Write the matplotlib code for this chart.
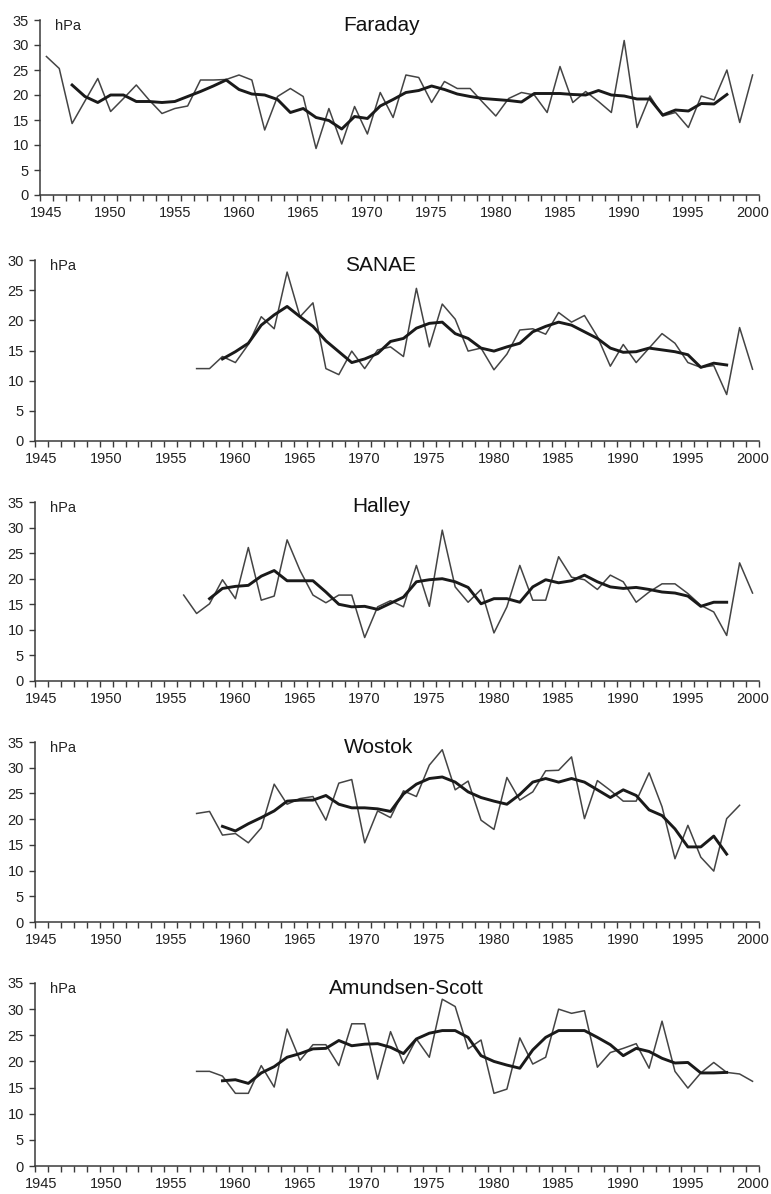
import numpy as np
import matplotlib
matplotlib.use('Agg')
import matplotlib.pyplot as plt

plt.rcParams['font.family'] = ['Liberation Sans', 'DejaVu Sans']

# annual values (thin) and running mean (thick), hPa
faraday_years = list(range(1945, 2001))
faraday_annual = [27.7, 25.3, 14.3, 18.8, 23.3, 16.7, 19.3, 22.0, 19.0, 16.3,
                  17.3, 17.8, 23.0, 23.0, 23.1, 24.0, 23.0, 13.0, 19.7, 21.3,
                  19.7, 9.3, 17.3, 10.2, 17.7, 12.2, 20.5, 15.5, 24.0, 23.5,
                  18.5, 22.7, 21.3, 21.3, 18.5, 15.8, 19.3, 20.5, 20.0, 16.5,
                  25.7, 18.5, 20.7, 18.7, 16.5, 30.9, 13.5, 19.8, 15.8, 16.5,
                  13.5, 19.8, 19.0, 25.0, 14.5, 24.0]
faraday_smooth_years = list(range(1947, 1999))
faraday_smooth = [22.0, 19.7, 18.5, 20.0, 20.0, 18.7, 18.7, 18.5, 18.7, 19.7,
                  20.7, 21.8, 23.0, 21.1, 20.2, 20.0, 19.1, 16.5, 17.3, 15.5,
                  14.9, 13.2, 15.7, 15.3, 17.8, 19.1, 20.5, 20.9, 21.8, 21.1,
                  20.2, 19.7, 19.3, 19.1, 18.9, 18.6, 20.3, 20.3, 20.3, 20.1,
                  20.0, 20.9, 20.0, 19.8, 19.2, 19.2, 16.0, 17.0, 16.8, 18.3,
                  18.2, 20.1]

sanae_years = list(range(1957, 2001))
sanae_annual = [12.0, 12.0, 14.0, 13.0, 16.0, 20.6, 18.6, 28.0, 20.6, 22.9,
                12.0, 11.0, 14.9, 12.0, 15.1, 15.6, 14.0, 25.3, 15.6, 22.7,
                20.2, 14.9, 15.4, 11.8, 14.4, 18.4, 18.6, 17.7, 21.3, 19.7,
                20.8, 17.3, 12.4, 16.0, 13.0, 15.4, 17.8, 16.2, 13.0, 12.2,
                12.5, 7.7, 18.8, 11.9]
sanae_smooth_years = list(range(1959, 1999))
sanae_smooth = [13.6, 14.8, 16.2, 19.2, 20.9, 22.3, 20.6, 19.0, 16.6, 14.8,
                13.0, 13.6, 14.5, 16.5, 17.0, 18.7, 19.5, 19.7, 17.8, 17.0,
                15.4, 14.9, 15.6, 16.2, 18.1, 19.0, 19.7, 19.2, 18.1, 17.0,
                15.4, 14.7, 14.8, 15.4, 15.1, 14.8, 14.3, 12.2, 12.9, 12.6]

halley_years = list(range(1956, 2001))
halley_annual = [16.8, 13.2, 15.1, 19.8, 16.1, 26.1, 15.8, 16.6, 27.6, 21.6,
                 16.8, 15.3, 16.8, 16.8, 8.5, 14.5, 15.7, 14.5, 22.6, 14.6,
                 29.5, 18.4, 15.4, 17.9, 9.4, 14.5, 22.6, 15.8, 15.8, 24.3,
                 20.3, 19.8, 17.9, 20.7, 19.4, 15.4, 17.4, 19.0, 19.0, 17.1,
                 14.8, 13.5, 8.9, 23.1, 17.2]
halley_smooth_years = list(range(1958, 1999))
halley_smooth = [16.1, 18.1, 18.5, 18.7, 20.5, 21.6, 19.6, 19.6, 19.6, 17.4,
                 15.0, 14.5, 14.6, 14.0, 15.2, 16.4, 19.4, 19.8, 20.0, 19.4,
                 18.3, 15.1, 16.1, 16.1, 15.4, 18.4, 19.8, 19.2, 19.6, 20.7,
                 19.4, 18.4, 18.1, 18.3, 17.9, 17.4, 17.2, 16.6, 14.6, 15.4,
                 15.4]

wostok_years = list(range(1957, 2000))
wostok_annual = [21.1, 21.5, 16.9, 17.2, 15.4, 18.3, 26.8, 22.9, 24.0, 24.4,
                 19.8, 27.0, 27.7, 15.4, 21.6, 20.3, 25.5, 24.4, 30.5, 33.5,
                 25.7, 27.4, 19.8, 18.0, 28.1, 23.7, 25.3, 29.4, 29.5, 32.1,
                 20.1, 27.5, 25.6, 23.5, 23.5, 29.0, 22.4, 12.3, 18.8, 12.6,
                 9.9, 20.1, 22.7]
wostok_smooth_years = list(range(1959, 1999))
wostok_smooth = [18.6, 17.7, 19.1, 20.3, 21.6, 23.5, 23.7, 23.7, 24.6, 22.9,
                 22.2, 22.2, 22.0, 21.5, 24.9, 26.8, 27.9, 28.2, 27.2, 25.3,
                 24.2, 23.5, 22.9, 24.8, 27.2, 27.9, 27.2, 27.9, 27.2, 25.7,
                 24.2, 25.7, 24.6, 21.8, 20.7, 18.1, 14.6, 14.6, 16.7, 13.2]

amundsen_years = list(range(1957, 2001))
amundsen_annual = [18.1, 18.1, 17.2, 13.9, 13.9, 19.2, 15.1, 26.2, 20.2, 23.2,
                   23.2, 19.2, 27.2, 27.2, 16.6, 25.7, 19.6, 24.3, 20.8, 31.9,
                   30.5, 22.4, 24.1, 13.9, 14.7, 24.5, 19.5, 20.8, 30.0, 29.2,
                   29.7, 18.9, 21.7, 22.5, 23.4, 18.7, 27.7, 18.1, 14.9, 17.8,
                   19.8, 17.9, 17.6, 16.2]
amundsen_smooth_years = list(range(1959, 1999))
amundsen_smooth = [16.3, 16.5, 15.8, 17.8, 19.0, 20.8, 21.5, 22.4, 22.5, 24.0,
                   23.0, 23.3, 23.4, 22.7, 21.5, 24.3, 25.4, 25.9, 25.9, 24.6,
                   21.1, 20.0, 19.3, 18.7, 22.2, 24.6, 25.9, 25.9, 25.9, 24.6,
                   23.2, 21.1, 22.5, 21.9, 20.6, 19.7, 19.8, 17.8, 17.8, 17.9]

stations = ['Faraday', 'SANAE', 'Halley', 'Wostok', 'Amundsen-Scott']
y_max = [35, 30, 35, 35, 35]
label_years = [1945, 1950, 1955, 1960, 1965, 1970, 1975, 1980, 1985, 1990, 1995, 2000]

series = [
    (faraday_years, faraday_annual, faraday_smooth_years, faraday_smooth),
    (sanae_years, sanae_annual, sanae_smooth_years, sanae_smooth),
    (halley_years, halley_annual, halley_smooth_years, halley_smooth),
    (wostok_years, wostok_annual, wostok_smooth_years, wostok_smooth),
    (amundsen_years, amundsen_annual, amundsen_smooth_years, amundsen_smooth),
]

# layout in pixels: (left, right, top, bottom), title centre x and baseline y
W, H = 771, 1194
boxes = [(40, 759, 20, 195), (35, 759, 260, 441), (35, 759, 502, 681),
         (35, 759, 742, 922), (35, 759, 983, 1166)]
title_pos = [(382, 31), (381, 271), (381, 512), (379, 753), (406, 994)]

axis_col = '#3a3a3a'
fig = plt.figure(figsize=(W / 100, H / 100), dpi=100)

for i, name in enumerate(stations):
    l, r, t, b = boxes[i]
    ax = fig.add_axes([l / W, 1 - b / H, (r - l) / W, (b - t) / H])
    yrs, ann, syrs, sm = series[i]
    ax.plot(yrs, ann, color='#444444', lw=1.1)
    ax.plot(syrs, sm, color='#1a1a1a', lw=2.1)

    ax.set_xlim(1944.5, 2000.5)
    ax.set_ylim(0, y_max[i])
    ax.spines['top'].set_visible(False)
    ax.spines['right'].set_visible(False)
    for s in ['left', 'bottom']:
        ax.spines[s].set_color(axis_col)
        ax.spines[s].set_linewidth(1.1)

    ax.set_yticks(np.arange(0, y_max[i] + 1, 5))
    ax.set_xticks(label_years)
    ax.set_xticks(np.arange(1944.5, 2001, 1.0), minor=True)
    ax.tick_params(axis='y', direction='out', length=4.5, width=1.0,
                   color=axis_col, labelsize=10.5, labelcolor='#222222', pad=3.5)
    ax.tick_params(axis='x', which='major', length=0, labelsize=10.5,
                   labelcolor='#222222', pad=8)
    ax.tick_params(axis='x', which='minor', direction='out', length=4.5,
                   width=1.0, color=axis_col)

    ax.annotate('hPa', xy=(0, 1), xycoords='axes fraction',
                xytext=(15 * 0.72, -10 * 0.72), textcoords='offset points',
                ha='left', va='baseline', fontsize=10.5, color='#222222')

    tx, ty = title_pos[i]
    fig.text(tx / W, 1 - ty / H, name, ha='center', va='baseline',
             fontsize=15, color='#111111')

fig.savefig('out.png', dpi=100)
